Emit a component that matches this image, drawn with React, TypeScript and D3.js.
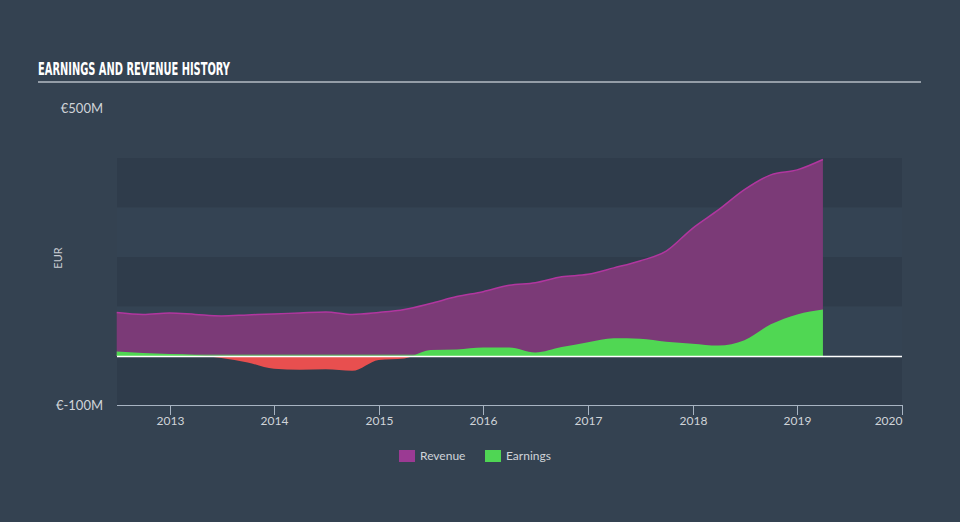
import React from "react";
import * as d3 from "d3";

const dates = [
  "2012-06-30","2012-09-30","2012-12-31","2013-03-31","2013-06-30","2013-09-30","2013-12-31",
  "2014-03-31","2014-06-30","2014-09-30","2014-12-31","2015-03-31","2015-06-30","2015-09-30",
  "2015-12-31","2016-03-31","2016-06-30","2016-09-30","2016-12-31","2017-03-31","2017-06-30",
  "2017-09-30","2017-12-31","2018-03-31","2018-06-30","2018-09-30","2018-12-31","2019-03-31",
];
const revenue = [88,84,87,84,81,83,85,87,89,84,88,94,106,120,130,143,148,160,165,178,192,212,258,295,336,366,376,397];
const earnings = [9,6,4,2,-4,-13,-26,-28,-27,-30,-8,-5,12,13,17,17,7,18,28,36,35,29,25,21,32,64,84,94];
const yTicks = [500, -100];
const xTicks = ["2013","2014","2015","2016","2017","2018","2019","2020"];
const bandEdges = [400, 300, 200, 100, 0, -100];
const legendItems = [
  { name: "Revenue", color: "#9b3a93" },
  { name: "Earnings", color: "#4fd654" },
];

const W = 960, H = 522;
const left = 117, right = 902;
const font = "Lato, 'Open Sans', sans-serif";

export default function App() {
  const parse = d3.timeParse("%Y-%m-%d");
  const data = dates.map((d, i) => ({ date: parse(d)!, rev: revenue[i], earn: earnings[i] }));
  const x = d3.scaleTime().domain([new Date(2012, 6, 1), new Date(2020, 0, 1)]).range([left, right]);
  const y = d3.scaleLinear().domain([-100, 500]).range([405.5, 108.5]);
  const curve = d3.curveMonotoneX;
  const revArea = d3.area<any>().x(d => x(d.date)).y0(y(0)).y1(d => y(d.rev)).curve(curve);
  const revLine = d3.line<any>().x(d => x(d.date)).y(d => y(d.rev)).curve(curve);
  const earnArea = d3.area<any>().x(d => x(d.date)).y0(y(0)).y1(d => y(d.earn)).curve(curve);
  const x0 = x(data[0].date), x1 = x(data[data.length - 1].date);

  return (
    <svg width={W} height={H} style={{ position: "absolute", left: 0, top: 0, display: "block" }}>
      <rect x={0} y={0} width={W} height={H} fill="#344251" />
      <text x={38} y={75} fill="#ffffff" fontFamily="'DejaVu Sans Condensed', 'Liberation Sans Narrow', sans-serif" fontWeight="bold" fontSize={18} textLength={192} lengthAdjust="spacingAndGlyphs">EARNINGS AND REVENUE HISTORY</text>
      <line x1={38} x2={921} y1={82} y2={82} stroke="#b5bcc4" strokeWidth={1.5} />
      {bandEdges.slice(0, -1).map((v, i) => (
        <rect key={v} x={left} width={right - left} y={y(v)} height={y(bandEdges[i + 1]) - y(v)} fill={i % 2 === 0 ? "#2f3c4b" : "#344353"} />
      ))}
      <defs>
        <clipPath id="pos"><rect x={0} y={0} width={W} height={y(0)} /></clipPath>
        <clipPath id="neg"><rect x={0} y={y(0)} width={W} height={H} /></clipPath>
      </defs>
      <path d={revArea(data)!} fill="#7b3a77" />
      <path d={revLine(data)!} fill="none" stroke="#b1369f" strokeWidth={1.5} />
      <path d={earnArea(data)!} fill="#e84f4f" clipPath="url(#neg)" />
      <path d={earnArea(data)!} fill="#50d753" clipPath="url(#pos)" />
      <line x1={x0} x2={x1} y1={y(0) - 0.8} y2={y(0) - 0.8} stroke="#50d753" strokeWidth={1} />
      <line x1={left} x2={right} y1={y(0) + 0.5} y2={y(0) + 0.5} stroke="#ffffff" strokeWidth={1.5} />
      {yTicks.map(t => (
        <text key={t} x={103} y={y(t)} dy="0.35em" textAnchor="end" fill="#d0d4d9" fontFamily={font} fontSize={13}>{`€${t}M`}</text>
      ))}
      <text transform={`translate(62,258) rotate(-90)`} textAnchor="middle" fill="#c8ccd2" fontFamily={font} fontSize={11}>EUR</text>
      <line x1={left} x2={right} y1={405.5} y2={405.5} stroke="#a8b4c2" strokeWidth={1} />
      {xTicks.map(t => {
        const xp = Math.round(x(new Date(+t, 0, 1))) + 0.5;
        return (
          <g key={t}>
            <line x1={xp} x2={xp} y1={405} y2={415} stroke="#a8b4c2" strokeWidth={1} />
            <text x={xp} y={425} textAnchor={t === "2020" ? "end" : "middle"} fill="#d0d4d9" fontFamily={font} fontSize={12}>{t}</text>
          </g>
        );
      })}
      {legendItems.map((it, i) => {
        const lx = i === 0 ? 399 : 485;
        return (
          <g key={it.name}>
            <rect x={lx} y={450} width={16} height={12} fill={it.color} />
            <text x={lx + 21} y={460} fill="#d0d4d9" fontFamily={font} fontSize={12}>{it.name}</text>
          </g>
        );
      })}
    </svg>
  );
}
